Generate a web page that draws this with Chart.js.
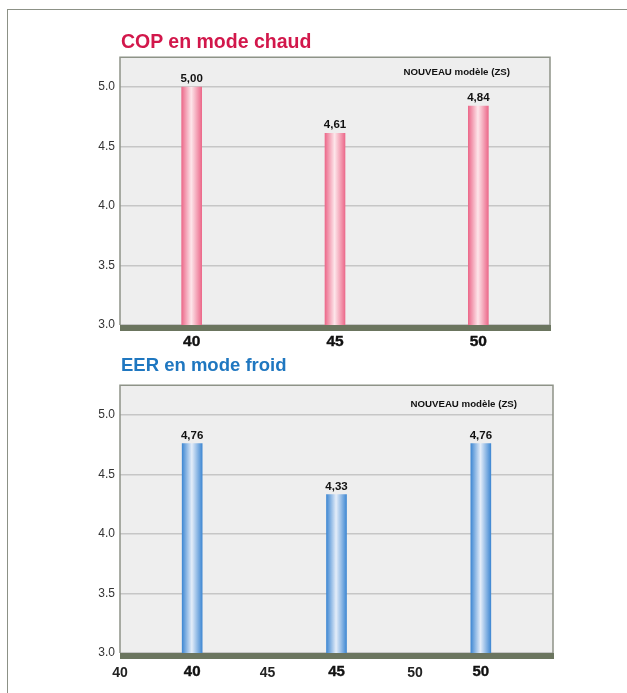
<!DOCTYPE html>
<html>
<head>
<meta charset="utf-8">
<script src="https://cdn.jsdelivr.net/npm/chart.js@4.4.1/dist/chart.umd.min.js"></script>
<style>
	body { margin: 0; background: #fff; width: 627px; height: 693px; overflow: hidden; position: relative; font-family: "Liberation Sans", Arial, sans-serif; }
	#frameTop { position: absolute; left: 8px; top: 9px; width: 619px; height: 0; border-top: 1.5px solid #8c9186; }
	#frameLeft { position: absolute; left: 7px; top: 9px; width: 0; height: 684px; border-left: 1.5px solid #8c9186; }
	.title { position: absolute; left: 121px; font-weight: bold; white-space: nowrap; z-index: 2; }
	#t1 { top: 30px; font-size: 19.5px; color: #d2174b; }
	#t2 { top: 354px; font-size: 18.5px; color: #1f77c0; }
	.box { position: absolute; left: 0; width: 560px; }
	#box1 { top: 45px; height: 315px; }
	#box2 { top: 373px; height: 320px; }
</style>
</head>
<body>
<div id="frameTop"></div>
<div id="frameLeft"></div>
<div class="title" id="t1">COP en mode chaud</div>
<div class="title" id="t2">EER en mode froid</div>
<div class="box" id="box1"><canvas id="copChart"></canvas></div>
<div class="box" id="box2"><canvas id="eerChart"></canvas></div>
<script>
	var categories = ['40', '45', '50'],
		copValues  = [5.00, 4.61, 4.84],
		eerValues  = [4.76, 4.33, 4.76];
	var seriesLabel = 'NOUVEAU modèle (ZS)';
	var yMin = 3.0, yMax = 5.25, yStep = 0.5;
	// second row of labels under the EER chart (linear scale)
	var eerScaleMin = 40, eerScaleMax = 54.68, eerScaleStep = 5;

	function barGradient(c, edge, mid) {
		const chart = c.chart;
		if (!chart.scales.x) return edge;
		const x = chart.scales.x.getPixelForValue(c.dataIndex);
		if (!isFinite(x)) return edge;
		const g = chart.ctx.createLinearGradient(x - 10, 0, x + 10, 0);
		g.addColorStop(0, edge);
		g.addColorStop(0.48, mid);
		g.addColorStop(1, edge);
		return g;
	}

	const plotDecor = {
		id: 'plotDecor',
		beforeDraw(chart) {
			const a = chart.chartArea, ctx = chart.ctx;
			ctx.save();
			ctx.fillStyle = '#eeeeee';
			ctx.fillRect(a.left, a.top, a.right - a.left, a.bottom - a.top);
			ctx.restore();
		},
		afterDatasetsDraw(chart) {
			const a = chart.chartArea, ctx = chart.ctx;
			ctx.save();
			ctx.strokeStyle = '#8e9388';
			ctx.lineWidth = 1.5;
			ctx.beginPath();
			ctx.moveTo(a.left, a.bottom);
			ctx.lineTo(a.left, a.top);
			ctx.lineTo(a.right, a.top);
			ctx.lineTo(a.right, a.bottom);
			ctx.stroke();
			ctx.fillStyle = '#6b755f';
			ctx.fillRect(a.left, a.bottom, a.right - a.left + 1, 6);

			// value labels over the bars
			const meta = chart.getDatasetMeta(0);
			const data = chart.data.datasets[0].data;
			ctx.fillStyle = '#111';
			ctx.font = 'bold 11.5px "Liberation Sans", Arial, sans-serif';
			ctx.textAlign = 'center';
			ctx.textBaseline = 'alphabetic';
			meta.data.forEach((el, i) => {
				ctx.fillText(data[i].toFixed(2).replace('.', ','), el.x, el.y - 5);
			});

			// series name in the top right corner
			const o = chart.options.plugins.plotDecor;
			ctx.font = 'bold 9.7px "Liberation Sans", Arial, sans-serif';
			ctx.textAlign = 'right';
			ctx.fillText(chart.data.datasets[0].label, a.right - o.legendRight, a.top + o.legendTop);
			ctx.restore();
		}
	};

	function yAxis() {
		return {
			min: yMin,
			max: yMax,
			afterFit: (s) => { s.width = 120; },
			grid: { color: '#c6c6c6', lineWidth: 1.5, drawTicks: false },
			border: { display: false },
			ticks: {
				stepSize: yStep,
				includeBounds: false,
				padding: 5,
				color: '#333',
				font: { family: '"Liberation Sans", Arial, sans-serif', size: 12 },
				callback: (v) => v.toFixed(1)
			}
		};
	}

	function xAxis(size, pad, h) {
		return {
			type: 'category',
			weight: 0,
			afterFit: (s) => { s.height = h; },
			grid: { display: false, drawTicks: false },
			border: { display: false },
			ticks: {
				padding: pad,
				color: '#111',
				textStrokeColor: '#111',
				textStrokeWidth: 0.4,
				font: { family: '"Liberation Sans", Arial, sans-serif', size: size, weight: 'bold' }
			}
		};
	}

	const copChart = new Chart(document.getElementById('copChart').getContext('2d'), {
		type: 'bar',
		data: {
			labels: categories,
			datasets: [{
				label: seriesLabel,
				data: copValues,
				barThickness: 20,
				borderWidth: 0,
				backgroundColor: (c) => barGradient(c, '#ec6a8b', '#fde6ea')
			}]
		},
		options: {
			responsive: true,
			maintainAspectRatio: false,
			animation: false,
			layout: { padding: { top: 10, right: 10, left: 0, bottom: 0 } },
			plugins: {
				legend: { display: false },
				tooltip: { enabled: false },
				plotDecor: { legendRight: 40, legendTop: 18 }
			},
			scales: {
				x: xAxis(15.5, 7, 35),
				y: yAxis()
			}
		},
		plugins: [plotDecor]
	});

	const eerChart = new Chart(document.getElementById('eerChart').getContext('2d'), {
		type: 'bar',
		data: {
			labels: categories,
			datasets: [{
				label: seriesLabel,
				data: eerValues,
				barThickness: 20,
				borderWidth: 0,
				backgroundColor: (c) => barGradient(c, '#4189d3', '#e4edf9')
			}]
		},
		options: {
			responsive: true,
			maintainAspectRatio: false,
			animation: false,
			layout: { padding: { top: 10, right: 7, left: 0, bottom: 0 } },
			plugins: {
				legend: { display: false },
				tooltip: { enabled: false },
				plotDecor: { legendRight: 36, legendTop: 22 }
			},
			scales: {
				x: xAxis(15, 10, 40),
				x2: {
					type: 'linear',
					position: 'bottom',
					weight: 1,
					offset: false,
					min: eerScaleMin,
					max: eerScaleMax,
					afterFit: (s) => { s.height = 0; },
					grid: { display: false, offset: false, drawTicks: false },
					border: { display: false },
					ticks: {
						mirror: true,
						stepSize: eerScaleStep,
						includeBounds: false,
						padding: 11,
						color: '#222',
						font: { family: '"Liberation Sans", Arial, sans-serif', size: 14, weight: 'bold' }
					}
				},
				y: yAxis()
			}
		},
		plugins: [plotDecor]
	});
</script>
</body>
</html>
